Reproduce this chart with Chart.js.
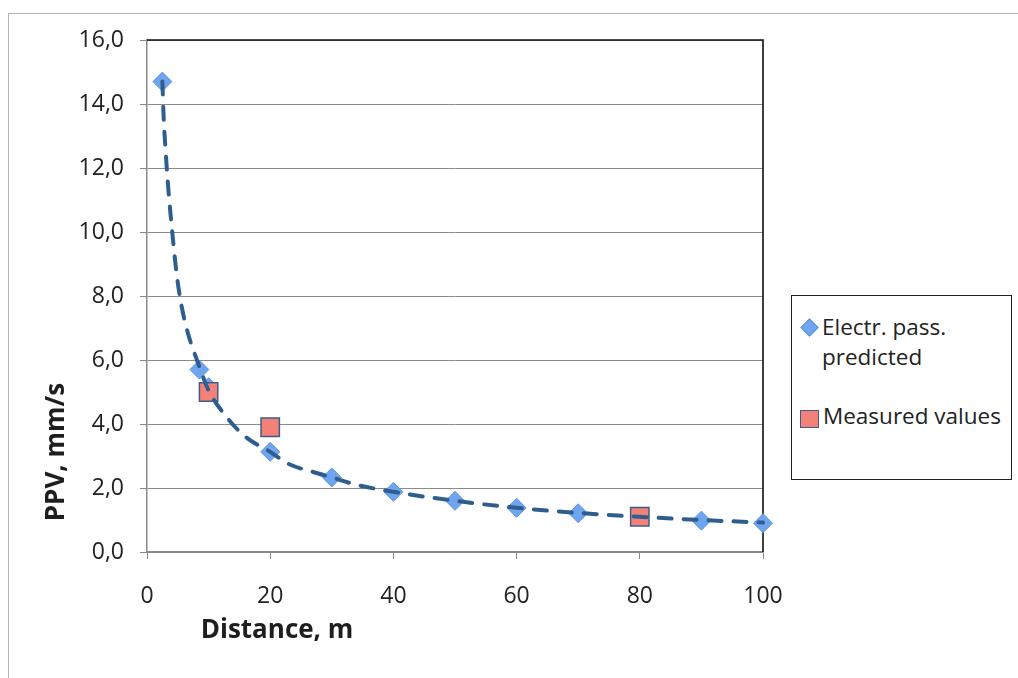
<!DOCTYPE html>
<html>
<head>
<meta charset="utf-8">
<script src="https://cdn.jsdelivr.net/npm/chart.js@4.4.1/dist/chart.umd.min.js"></script>
<style>
  html, body { margin:0; padding:0; background:#fff; }
  #wrap { position:relative; width:1018px; height:678px; overflow:hidden; font-family:"Open Sans", sans-serif; color:#222; }
  #c { position:absolute; left:0; top:0; }
  #frame { position:absolute; left:8px; top:13px; width:1030px; height:700px; border-left:1.5px solid #b4b4b4; border-top:1.5px solid #b4b4b4; }
  #legend { position:absolute; left:791px; top:295px; width:219px; height:183px; border:1.5px solid #222; background:#fff; }
  .lt { position:absolute; font-size:22.5px; line-height:30px; white-space:nowrap; color:#222; }
  .dia { position:absolute; width:11px; height:11px; background:#6FA4EE; border:1px solid #5B93E2; transform:rotate(45deg); }
  .sq { position:absolute; width:17px; height:16px; background:#F3817A; border:1.5px solid #3E5F85; }
</style>
</head>
<body>
<div id="wrap">
  <div id="frame"></div>
  <canvas id="c" width="1018" height="678"></canvas>
  <div id="legend">
    <div class="dia" style="left:11px; top:25px;"></div>
    <div class="lt" style="left:30px; top:16px;">Electr. pass.</div>
    <div class="lt" style="left:30px; top:46px;">predicted</div>
    <div class="sq" style="left:8px; top:114px;"></div>
    <div class="lt" style="left:31px; top:105px;">Measured values</div>
  </div>
</div>
<script>
// ---- data ----
const predictedX = [2.5, 8.5, 10, 20, 30, 40, 50, 60, 70, 80, 90, 100];
const predictedY = [14.7, 5.7, 5.15, 3.13, 2.33, 1.88, 1.6, 1.38, 1.21, 1.1, 0.98, 0.9];
const measuredX = [10, 20, 80];
const measuredY = [5.0, 3.9, 1.1];
// dashed trend line
const trendX = [2.5, 2.7, 3.0, 3.4, 3.8, 4.3, 4.8, 5.6, 6.7, 8.3, 10, 13, 16, 20, 23, 27, 30, 34, 40, 50, 60, 70, 80, 90, 100];
const trendY = [14.7, 13.6, 12.6, 11.5, 10.6, 9.6, 8.7, 7.7, 6.8, 5.9, 5.05, 4.2, 3.6, 3.13, 2.75, 2.5, 2.33, 2.1, 1.88, 1.6, 1.38, 1.22, 1.1, 1.0, 0.92];
const xTickLabels = ['0', '20', '40', '60', '80', '100'];
const yTickLabels = ['0,0', '2,0', '4,0', '6,0', '8,0', '10,0', '12,0', '14,0', '16,0'];
const xTitle = 'Distance, m';
const yTitle = 'PPV, mm/s';

const zip = (xs, ys) => xs.map((x, i) => ({ x: x, y: ys[i] }));

const FONT = '"Open Sans", sans-serif';

const decor = {
  id: 'decor',
  afterDraw(chart) {
    const { ctx, chartArea: a } = chart;
    ctx.save();
    ctx.fillStyle = '#1e1e1e';
    ctx.font = 'bold 26px ' + FONT;
    ctx.textAlign = 'center';
    ctx.textBaseline = 'middle';
    ctx.fillText(xTitle, 277, 631);
    ctx.translate(57, 452);
    ctx.rotate(-Math.PI / 2);
    ctx.fillText(yTitle, 0, 0);
    ctx.restore();
  },
  beforeDatasetsDraw(chart) {
    const { ctx, chartArea: a } = chart;
    ctx.save();
    ctx.strokeStyle = '#111';
    ctx.lineWidth = 1.6;
    ctx.beginPath();
    ctx.moveTo(a.left, a.top);
    ctx.lineTo(a.right, a.top);
    ctx.lineTo(a.right, a.bottom);
    ctx.stroke();
    ctx.restore();
  }
};

new Chart(document.getElementById('c'), {
  type: 'scatter',
  data: {
    datasets: [
      {
        label: 'trend',
        type: 'line',
        data: zip(trendX, trendY),
        borderColor: '#2F5E8E',
        borderWidth: 4,
        borderDash: [13, 12],
        borderCapStyle: 'round',
        pointRadius: 0,
        tension: 0.4,
        cubicInterpolationMode: 'monotone',
        fill: false,
        clip: false,
        order: 0
      },
      {
        label: 'Measured values',
        data: zip(measuredX, measuredY),
        pointStyle: 'rect',
        pointRadius: 13,
        backgroundColor: '#F3817A',
        borderColor: '#3E5F85',
        borderWidth: 1.5,
        clip: false,
        order: 1
      },
      {
        label: 'Electr. pass. predicted',
        data: zip(predictedX, predictedY),
        pointStyle: 'rectRot',
        pointRadius: 9.5,
        backgroundColor: '#6FA4EE',
        borderColor: '#5C95E4',
        borderWidth: 1,
        clip: false,
        order: 2
      }
    ]
  },
  options: {
    responsive: false,
    animation: false,
    layout: { padding: { top: 40, right: 255, left: 0, bottom: 0 } },
    plugins: { legend: { display: false }, tooltip: { enabled: false } },
    scales: {
      x: {
        type: 'linear',
        min: 0, max: 100,
        afterFit(s) { s.height = 126; },
        ticks: {
          stepSize: 20,
          padding: 24,
          color: '#222',
          font: { family: FONT, size: 23 },
          callback: (v) => { const i = Math.round(v / 20); return xTickLabels[i] !== undefined ? xTickLabels[i] : ''; }
        },
        grid: { drawOnChartArea: false, tickLength: 7, color: '#8a8a8a', lineWidth: 1 },
        border: { color: '#8a8a8a', width: 1.5 }
      },
      y: {
        type: 'linear',
        min: 0, max: 16,
        afterFit(s) { s.width = 147; },
        ticks: {
          stepSize: 2,
          padding: 16,
          color: '#222',
          font: { family: FONT, size: 23 },
          callback: (v) => { const i = Math.round(v / 2); return yTickLabels[i] !== undefined ? yTickLabels[i] : ''; }
        },
        grid: { tickLength: 7, color: '#8a8a8a', lineWidth: 1 },
        border: { color: '#8a8a8a', width: 1.5 }
      }
    }
  },
  plugins: [decor]
});
</script>
</body>
</html>
